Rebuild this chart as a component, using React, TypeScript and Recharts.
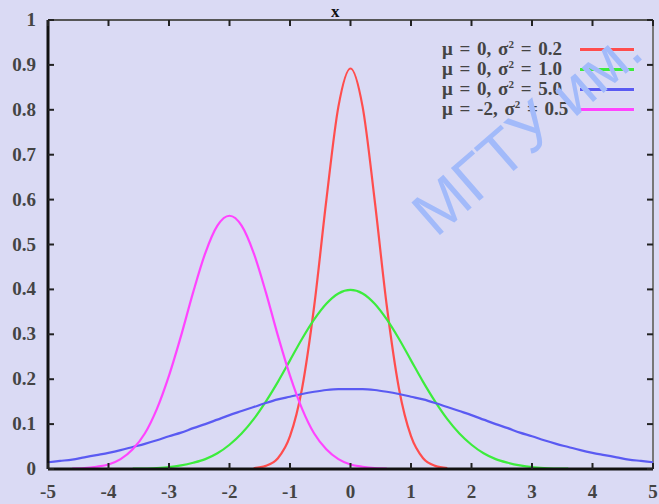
import { LineChart, Line, XAxis, YAxis, ReferenceLine, Legend } from 'recharts';

const X_VALUES = [
  -5, -4.8, -4.6, -4.4, -4.2, -4, -3.8, -3.6, -3.4, -3.2, -3, -2.8, -2.6, -2.4, -2.2, -2, -1.8,
  -1.6, -1.4, -1.2, -1, -0.8, -0.6, -0.4, -0.2, 0, 0.2, 0.4, 0.6, 0.8, 1, 1.2, 1.4, 1.6, 1.8, 2,
  2.2, 2.4, 2.6, 2.8, 3, 3.2, 3.4, 3.6, 3.8, 4, 4.2, 4.4, 4.6, 4.8, 5,
];

// mu = 0, sigma^2 = 0.2
const RED = [
  null, null, null, null, null, null, null, null, null, null, null, null, null, null, null, null, null,
  0.002, 0.007, 0.024, 0.073, 0.18, 0.363, 0.598, 0.807, 0.892, 0.807, 0.598, 0.363, 0.18, 0.073, 0.024, 0.007, 0.002,
  null, null, null, null, null, null, null, null, null, null, null, null, null, null, null, null, null,
];

// mu = 0, sigma^2 = 1.0
const GREEN = [
  null, null, null, null, null, null, null,
  0.001, 0.001, 0.002, 0.004, 0.008, 0.014, 0.022, 0.035, 0.054, 0.079, 0.111, 0.15, 0.194, 0.242, 0.29, 0.333, 0.368, 0.391,
  0.399,
  0.391, 0.368, 0.333, 0.29, 0.242, 0.194, 0.15, 0.111, 0.079, 0.054, 0.035, 0.022, 0.014, 0.008, 0.004, 0.002, 0.001, 0.001,
  null, null, null, null, null, null, null,
];

// mu = 0, sigma^2 = 5.0
const BLUE = [
  0.015, 0.018, 0.021, 0.026, 0.031, 0.036, 0.042, 0.049, 0.056, 0.064, 0.073, 0.081, 0.091, 0.1, 0.11, 0.12, 0.129,
  0.138, 0.147, 0.155, 0.161, 0.167, 0.172, 0.176, 0.178, 0.178, 0.178, 0.176, 0.172, 0.167, 0.161, 0.155, 0.147, 0.138,
  0.129, 0.12, 0.11, 0.1, 0.091, 0.081, 0.073, 0.064, 0.056, 0.049, 0.042, 0.036, 0.031, 0.026, 0.021, 0.018, 0.015,
];

// mu = -2, sigma^2 = 0.5
const MAGENTA = [
  null, null,
  0.001, 0.002, 0.005, 0.01, 0.022, 0.044, 0.079, 0.134, 0.208, 0.297, 0.394, 0.481, 0.542,
  0.564,
  0.542, 0.481, 0.394, 0.297, 0.208, 0.134, 0.079, 0.044, 0.022, 0.01, 0.005, 0.002, 0.001,
  null, null, null, null, null, null, null, null, null, null, null, null, null, null, null, null, null, null, null, null, null, null, null,
];

const X_TICKS = [-5, -4, -3, -2, -1, 0, 1, 2, 3, 4, 5];
const Y_TICKS = [0, 0.1, 0.2, 0.3, 0.4, 0.5, 0.6, 0.7, 0.8, 0.9, 1];
const Y_TICK_LABELS = ['0', '0.1', '0.2', '0.3', '0.4', '0.5', '0.6', '0.7', '0.8', '0.9', '1'];

const SERIES = [
  { key: 'red', mu: '0', sigma: '0.2', color: '#ff4d4d' },
  { key: 'green', mu: '0', sigma: '1.0', color: '#3cec3c' },
  { key: 'blue', mu: '0', sigma: '5.0', color: '#5a5af2' },
  { key: 'magenta', mu: '-2', sigma: '0.5', color: '#ff44ff' },
];

const data = X_VALUES.map((x, i) => ({
  x,
  red: RED[i],
  green: GREEN[i],
  blue: BLUE[i],
  magenta: MAGENTA[i],
}));

const BG = '#dadaf4';
const W = 659;
const H = 504;
const PLOT_LEFT = 48;
const PLOT_RIGHT = 653;
const PLOT_TOP = 20;
const PLOT_BOTTOM = 469;
const FONT = '"Liberation Serif", "DejaVu Serif", serif';

function XTick(props: any) {
  const { x, payload } = props;
  return (
    <g>
      <line x1={x} x2={x} y1={PLOT_BOTTOM} y2={PLOT_BOTTOM - 6} stroke="#222" strokeWidth={2} />
      <line x1={x} x2={x} y1={PLOT_TOP} y2={PLOT_TOP + 6} stroke="#222" strokeWidth={2} />
      <text x={x} y={PLOT_BOTTOM + 29} textAnchor="middle" fontFamily={FONT} fontSize={19} fontWeight="bold" fill="#444">
        {payload.value}
      </text>
    </g>
  );
}

function YTick(props: any) {
  const { y, payload, index } = props;
  return (
    <g>
      <line x1={PLOT_LEFT} x2={PLOT_LEFT + 6} y1={y} y2={y} stroke="#222" strokeWidth={2} />
      <line x1={PLOT_RIGHT} x2={PLOT_RIGHT - 6} y1={y} y2={y} stroke="#222" strokeWidth={2} />
      <text x={36} y={y + 6} textAnchor="end" fontFamily={FONT} fontSize={19} fontWeight="bold" fill="#444">
        {Y_TICK_LABELS[index] ?? payload.value}
      </text>
    </g>
  );
}

function LegendBox() {
  return (
    <div style={{ fontFamily: FONT, fontSize: 19, fontWeight: 'bold', color: '#444' }}>
      {SERIES.map((s) => (
        <div key={s.key} style={{ display: 'flex', alignItems: 'center', height: 20 }}>
          <span style={{ width: 128, whiteSpace: 'nowrap', wordSpacing: 2 }}>
            μ = {s.mu}, σ<sup style={{ fontSize: 11 }}>2</sup> = {s.sigma}
          </span>
          <span style={{ display: 'inline-block', width: 54, height: 3, background: s.color, marginLeft: 10, boxShadow: '0 0 1px #fff' }} />
        </div>
      ))}
    </div>
  );
}

export default function App() {
  return (
    <div style={{ position: 'absolute', left: 0, top: 0, width: W, height: H, background: BG, overflow: 'hidden' }}>
      <LineChart width={W} height={H} data={data} margin={{ top: PLOT_TOP, right: W - PLOT_RIGHT, bottom: 5, left: 8 }}>
        <XAxis
          dataKey="x"
          type="number"
          domain={[-5, 5]}
          ticks={X_TICKS}
          height={30}
          tickLine={false}
          axisLine={{ stroke: '#111', strokeWidth: 3 }}
          tick={<XTick />}
          interval={0}
        />
        <YAxis
          type="number"
          domain={[0, 1]}
          ticks={Y_TICKS}
          width={40}
          tickLine={false}
          axisLine={{ stroke: '#111', strokeWidth: 3 }}
          tick={<YTick />}
          interval={0}
        />
        <ReferenceLine y={1} stroke="#555" strokeWidth={2} />
        <ReferenceLine x={5} stroke="#777" strokeWidth={2} />
        <Legend
          verticalAlign="middle"
          align="center"
          layout="vertical"
          content={<LegendBox />}
          wrapperStyle={{ position: 'absolute', top: 39, left: 442, width: 200, height: 80 }}
        />
        {SERIES.map((s) => (
          <Line
            key={s.key}
            dataKey={s.key}
            type="monotone"
            stroke={s.color}
            strokeWidth={2.2}
            dot={false}
            isAnimationActive={false}
          />
        ))}
      </LineChart>
      <div
        style={{
          position: 'absolute',
          left: 331,
          top: 2,
          fontFamily: FONT,
          fontSize: 17,
          fontWeight: 'bold',
          color: '#111',
        }}
      >
        x
      </div>
      <div
        style={{
          position: 'absolute',
          left: 527,
          top: 131,
          transform: 'translate(-50%, -50%) rotate(-41deg)',
          whiteSpace: 'nowrap',
          fontFamily: '"Liberation Sans", Arial, sans-serif',
          fontSize: 63,
          lineHeight: 1,
          color: '#a2bafa',
          pointerEvents: 'none',
        }}
      >
        МГТУ им.
      </div>
    </div>
  );
}
